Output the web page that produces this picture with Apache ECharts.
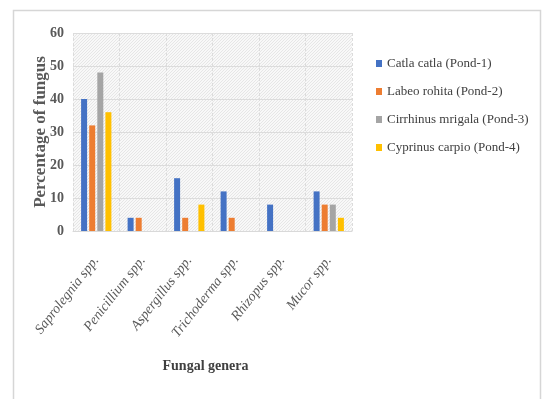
<!DOCTYPE html>
<html><head><meta charset="utf-8">
<script src="https://cdn.jsdelivr.net/npm/echarts@6/dist/echarts.min.js"></script>
<style>html,body{margin:0;padding:0;background:#fff}#c{width:543px;height:399px}</style>
</head><body><div id="c"></div>
<script>
const categories = ['Saprolegnia spp.', 'Penicillium spp.', 'Aspergillus spp.', 'Trichoderma spp.', 'Rhizopus spp.', 'Mucor spp.'];
const seriesNames = ['Catla catla (Pond-1)', 'Labeo rohita (Pond-2)', 'Cirrhinus mrigala (Pond-3)', 'Cyprinus carpio (Pond-4)'];
const pond1 = [40, 4, 16, 12, 8, 12];
const pond2 = [32, 4, 4, 4, 0, 8];
const pond3 = [48, 0, 0, 0, 0, 8];
const pond4 = [36, 0, 8, 0, 0, 4];
const yTicks = [0, 10, 20, 30, 40, 50, 60];
const colors = ['#4472C4', '#ED7D31', '#A5A5A5', '#FFC000'];

const pc = document.createElement('canvas');
pc.width = 3; pc.height = 3;
const g = pc.getContext('2d');
g.fillStyle = '#f8f8f8'; g.fillRect(0, 0, 3, 3);
g.strokeStyle = '#e6e6e6'; g.lineWidth = 1;
g.beginPath(); g.moveTo(0, 3); g.lineTo(3, 0); g.stroke();

const font = '"Liberation Serif", "Times New Roman", serif';
const chart = echarts.init(document.getElementById('c'), null, {renderer: 'canvas'});
const data = [pond1, pond2, pond3, pond4];
chart.setOption({
  animation: false,
  backgroundColor: '#fff',
  textStyle: {fontFamily: font},
  graphic: [{type: 'rect', shape: {x: 13.5, y: 10.5, width: 527, height: 400}, style: {fill: 'none', stroke: '#d6d6d6', lineWidth: 1.5}, silent: true}],
  grid: {left: 73, right: 191, top: 33, bottom: 168, show: true, backgroundColor: {image: pc, repeat: 'repeat'}, borderWidth: 0},
  legend: {
    orient: 'vertical', left: 371, top: 52, itemWidth: 6, itemHeight: 7, itemGap: 15, icon: 'rect',
    textStyle: {fontFamily: font, fontSize: 13, color: '#404040'},
    data: seriesNames
  },
  xAxis: {
    type: 'category', data: categories,
    name: 'Fungal genera', nameLocation: 'middle', nameGap: 128,
    nameTextStyle: {fontFamily: font, fontSize: 14, fontWeight: 'bold', color: '#404040', padding: [0, 14, 0, 0]},
    axisLine: {lineStyle: {color: '#d9d9d9'}}, axisTick: {show: false},
    splitLine: {show: true, lineStyle: {color: '#dcdcdc', type: [3, 2]}},
    axisLabel: {rotate: 52, interval: 0, fontFamily: font, fontStyle: 'italic', fontSize: 14, color: '#595959', margin: 27}
  },
  yAxis: {
    type: 'value', min: 0, max: 60, interval: 10,
    name: 'Percentage of fungus', nameLocation: 'middle', nameGap: 24, nameMoveOverlap: false,
    nameTextStyle: {fontFamily: font, fontSize: 17, fontWeight: 'bold', color: '#595959'},
    axisLine: {show: false}, axisTick: {show: false},
    splitLine: {lineStyle: {color: '#dcdcdc'}},
    axisLabel: {fontFamily: font, fontSize: 14, fontWeight: 'bold', color: '#595959', margin: 9,
      formatter: v => yTicks.includes(v) ? String(v) : ''}
  },
  series: seriesNames.map((n, i) => ({
    name: n, type: 'bar', data: data[i], barWidth: 6, barGap: '35%',
    itemStyle: {color: colors[i]}
  }))
});
</script></body></html>
